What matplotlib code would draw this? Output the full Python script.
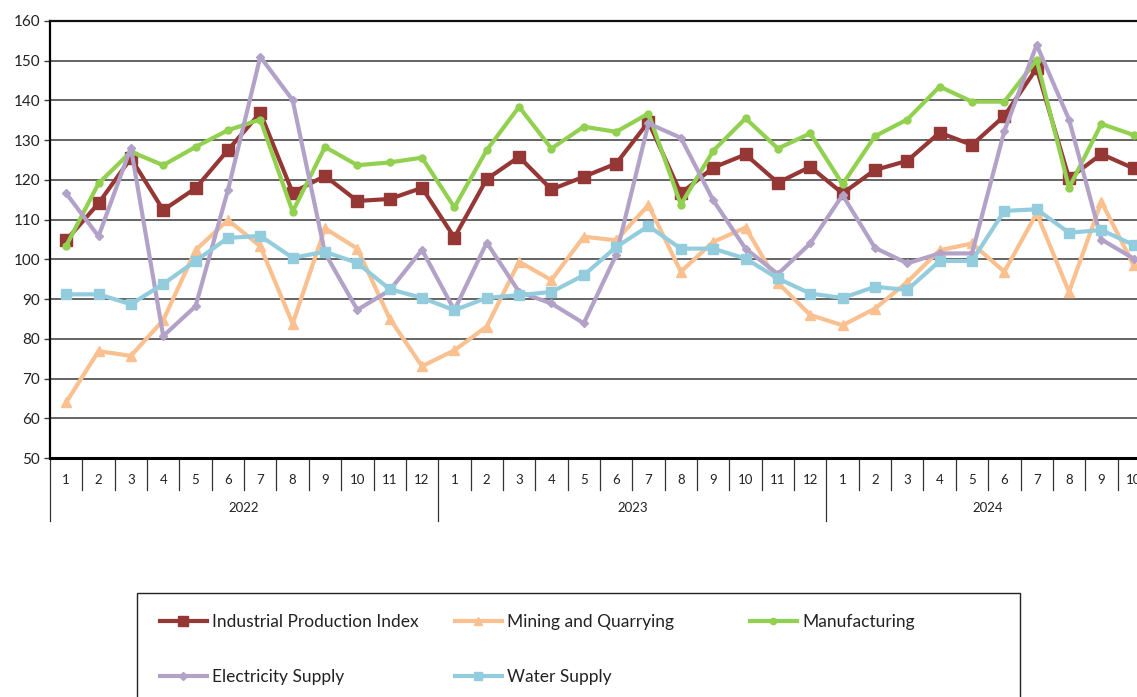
import matplotlib
matplotlib.use("Agg")
import matplotlib.pyplot as plt
import matplotlib.transforms as mtransforms
from matplotlib.lines import Line2D
from matplotlib.patches import Rectangle

plt.rcParams['font.family'] = ['Lato', 'DejaVu Sans']

years = ["2022", "2023", "2024"]
months_per_year = [12, 12, 10]
month_labels = [str(m) for n in months_per_year for m in range(1, n + 1)]

ipi = [104.8, 114.1, 125.5, 112.4, 117.9, 127.5, 136.9, 116.8, 121.0, 114.7, 115.2, 118.0,
       105.5, 120.2, 125.8, 117.6, 120.8, 124.1, 134.6, 116.6, 123.1, 126.4, 119.3, 123.3,
       116.6, 122.5, 124.8, 131.9, 128.8, 136.1, 148.1, 120.4, 126.5, 122.9]
mining = [64.0, 76.9, 75.7, 84.7, 102.3, 109.9, 103.3, 83.8, 107.8, 102.7, 85.1, 73.1,
          77.1, 83.1, 99.4, 94.8, 105.7, 104.8, 113.7, 96.9, 104.4, 108.0, 94.1, 86.0,
          83.4, 87.6, 94.3, 102.3, 104.0, 96.9, 111.6, 91.8, 114.5, 98.5]
manufacturing = [103.4, 119.1, 127.1, 123.7, 128.3, 132.5, 135.2, 112.0, 128.3, 123.7, 124.4, 125.6,
                 113.1, 127.5, 138.4, 127.9, 133.4, 132.1, 136.7, 113.8, 127.3, 135.5, 127.9, 131.7,
                 118.9, 131.0, 135.2, 143.5, 139.7, 139.7, 150.2, 118.0, 134.1, 131.3]
electricity = [116.6, 105.8, 128.1, 80.7, 88.2, 117.4, 151.0, 140.1, 101.6, 87.3, 92.2, 102.4,
               87.2, 104.2, 91.8, 88.9, 83.9, 101.1, 134.2, 130.6, 114.9, 102.7, 96.3, 104.0,
               116.2, 102.9, 99.0, 101.5, 101.5, 132.3, 154.0, 135.2, 105.0, 100.2]
water = [91.2, 91.2, 88.7, 93.8, 99.6, 105.4, 105.9, 100.4, 101.9, 99.1, 92.5, 90.3,
         87.2, 90.3, 91.0, 91.8, 96.0, 103.1, 108.4, 102.7, 102.7, 100.2, 95.2, 91.4,
         90.3, 93.1, 92.3, 99.6, 99.6, 112.2, 112.6, 106.7, 107.4, 103.6]

series = [
    ("Industrial Production Index", ipi, "#953735", "s", 8),
    ("Mining and Quarrying", mining, "#FAC090", "^", 7),
    ("Manufacturing", manufacturing, "#92D050", "o", 5),
    ("Electricity Supply", electricity, "#B3A2C7", "D", 4),
    ("Water Supply", water, "#93CDDD", "s", 7),
]

W, H = 1137, 697
fig = plt.figure(figsize=(W / 100, H / 100), dpi=100)
n = len(month_labels)
cat_w = 32.35
left_px, top_px, bottom_px = 50, 21, 458
right_px = left_px + n * cat_w
ax = fig.add_axes([left_px / W, 1 - bottom_px / H, (right_px - left_px) / W, (bottom_px - top_px) / H])

x = list(range(n))
handles = {}
for name, vals, col, mk, ms in series:
    ln, = ax.plot(x, vals, color=col, lw=3, marker=mk, markersize=ms,
                  markerfacecolor=col, markeredgecolor=col, label=name, clip_on=False, zorder=3)
    handles[name] = ln

ax.set_xlim(-0.5, n - 0.5)
ax.set_ylim(50, 160)
ax.set_yticks(range(50, 161, 10))
ax.tick_params(axis='y', labelsize=11, length=4, width=1, color='#404040', pad=3, labelcolor='#222222')
ax.yaxis.grid(True, color='#3a3a3a', lw=1.1)
ax.set_axisbelow(True)
ax.set_xticks([])
ax.spines['right'].set_visible(False)
ax.spines['top'].set_linewidth(1.6)
ax.spines['left'].set_linewidth(1.6)
ax.spines['bottom'].set_linewidth(2.2)
ax.spines['top'].set_color('#111111')

# category axis (months / years)
trans = mtransforms.blended_transform_factory(ax.transData, ax.transAxes)
ax_h_px = bottom_px - top_px
def dy(px):
    return -px / ax_h_px

year_bounds = []
pos = 0
for ny in months_per_year:
    year_bounds.append((pos, pos + ny))
    pos += ny
year_starts = [a for a, _ in year_bounds]

for i, lab in enumerate(month_labels):
    ax.text(i, dy(22), lab, transform=trans, ha='center', va='center', fontsize=9.5, color='#222222')
for i in range(n):
    b = i - 0.5
    is_year = i in year_starts
    ln = Line2D([b, b], [0, dy(63 if is_year else 32)], transform=trans, color='#333333', lw=0.9, clip_on=False)
    ax.add_line(ln)
for (a, bnd), yr in zip(year_bounds, years):
    ax.text((a + bnd - 1) / 2, dy(50), yr, transform=trans, ha='center', va='center', fontsize=9.5, color='#222222')

# legend: three columns, each its own legend, plus frame
fig.patches.append(Rectangle((137 / W, -0.1), (1020 - 137) / W, 0.1 + 1 - 593 / H,
                             transform=fig.transFigure, fill=False, edgecolor='#222222', lw=1.0))
cols = [(160, ["Industrial Production Index", "Electricity Supply"]),
        (455, ["Mining and Quarrying", "Water Supply"]),
        (750, ["Manufacturing"])]
for xpx, names in cols:
    leg = fig.legend([handles[nm] for nm in names], names, loc='upper left',
                     bbox_to_anchor=(xpx / W, 1 - 614 / H), frameon=False, borderpad=0,
                     borderaxespad=0, fontsize=12.5, handlelength=2.7, handletextpad=0.3,
                     labelspacing=2.27, markerscale=0.9)
    for t in leg.get_texts():
        t.set_color('#222222')

fig.savefig("out.png", dpi=100)
